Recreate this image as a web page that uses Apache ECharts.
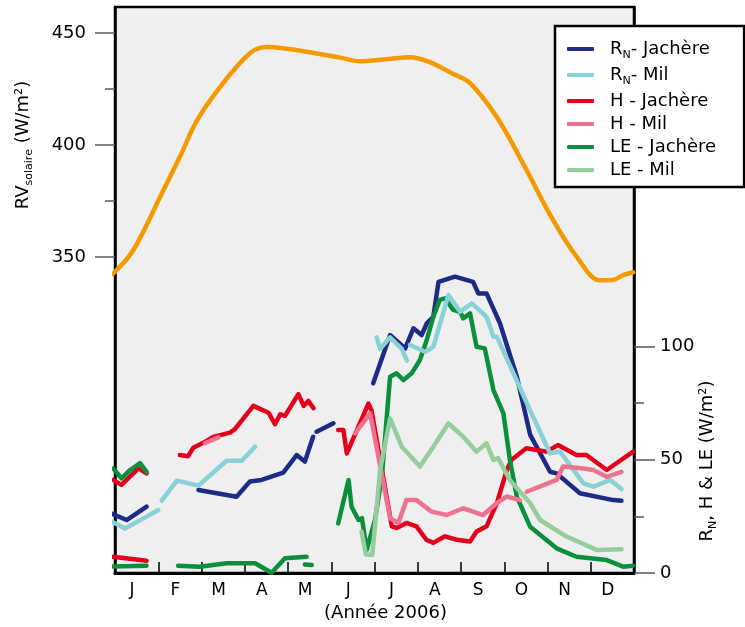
<!DOCTYPE html>
<html><head><meta charset="utf-8">
<script src="https://cdn.jsdelivr.net/npm/echarts@6/dist/echarts.min.js"></script>
<style>html,body{margin:0;padding:0;background:#fff}#c{width:745px;height:627px}</style>
</head><body><div id="c"></div>
<script>
// ---- tick labels / categories ----
const months = ['J','F','M','A','M','J','J','A','S','O','N','D'];
const rvTicks = [350, 400, 450];
const rvMinorTicks = [375, 425];
const fluxTicks = [0, 50, 100];
const fluxMinorTicks = [25, 75];

// ---- series values: [month (0 = 1 Jan, 12 = 31 Dec), W/m2] ----
const rvSolaire = [[-0.05,342.5],[0.42,353.1],[1.04,376.8],[1.5,394.8],[1.90,411.2],[2.50,427.7],[3.12,441.1],[3.51,443.8],[3.88,443.3],[4.51,441.5],[5.2,439.1],[5.66,437.5],[6.29,438.4],[6.82,439.3],[7.28,437.1],[7.8,432.0],[8.21,427.7],[8.83,412.5],[9.43,392.0],[10.13,366.5],[10.68,350.0],[11.21,339.7],[11.5,339.8],[11.75,342.0],[11.98,343.3]];

const rnJachere = [
  [[-0.27,27.8],[0.27,23.4],[0.73,29.3]],
  [[1.93,36.7],[2.81,33.7],[3.12,40.4],[3.39,41.1],[3.89,44.3],[4.20,52.1],[4.39,49.2],[4.58,60.2]],
  [[4.66,62.4],[5.05,66.1]],
  [[5.97,83.8],[6.36,105.1],[6.71,99.2],[6.90,108.1],[7.09,105.1],[7.21,110.3],[7.36,113.2],[7.48,128.6],[7.86,130.9],[8.28,128.6],[8.40,123.5],[8.59,123.5],[8.90,110.3],[9.29,86.8],[9.60,61.0],[10.06,44.7],[10.21,44.0],[10.75,35.2],[11.52,32.2],[11.71,31.9]]
];
const rnMil = [
  [[-0.15,23.4],[0.23,19.7],[0.73,24.9],[1.0,27.8]],
  [[1.08,32.0],[1.43,40.8],[1.93,38.6],[2.58,49.6],[2.93,49.6],[3.24,55.8]],
  [[6.05,104.1],[6.13,99.0],[6.36,104.1],[6.63,99.0],[6.75,93.8]],
  [[6.82,100.7],[7.17,97.7],[7.36,99.9],[7.71,122.8],[7.98,115.4],[8.25,119.1],[8.59,113.2],[8.75,104.3],[8.83,104.3],[9.29,85.0],[9.60,71.7],[10.06,52.9],[10.29,53.6],[10.83,39.6],[11.06,38.1],[11.45,41.1],[11.71,37.1]]
];
const hJachere = [
  [[-0.04,41.1],[0.15,38.9],[0.54,46.2],[0.73,44.0]],
  [[1.50,52.1],[1.69,51.6],[1.81,55.3],[2.04,57.5],[2.27,60.1],[2.66,62.0],[2.77,63.5],[3.20,73.8],[3.55,70.8],[3.70,65.7],[3.82,70.1],[3.93,69.4],[4.24,79.0],[4.36,73.8],[4.47,76.0],[4.59,72.8]],
  [[5.16,63.2],[5.28,63.2],[5.36,52.8],[5.86,74.8],[5.93,71.9],[6.40,20.6],[6.51,19.9],[6.74,22.1],[6.97,20.6],[7.20,14.7],[7.36,13.3],[7.63,16.2],[7.90,14.7],[8.21,13.9],[8.36,18.3],[8.59,20.6],[8.83,30.9],[9.06,45.5],[9.17,50.0],[9.51,55.1],[9.98,53.6],[10.24,56.5],[10.67,52.1],[10.90,52.1],[11.37,45.5],[11.98,53.6]],
  [[-0.04,7.2],[0.73,5.4]]
];
const hMil = [
  [[2.08,57.3],[2.39,59.9]],
  [[5.55,61.7],[5.90,70.5],[6.36,24.2],[6.55,22.1],[6.74,32.2],[6.97,32.2],[7.32,27.1],[7.67,25.6],[8.05,28.6],[8.51,25.6],[8.83,30.9],[9.06,33.8],[9.36,32.2]],
  [[9.52,35.9],[10.21,41.1],[10.36,47.0],[10.83,46.2],[11.06,45.5],[11.37,42.5],[11.71,44.7]]
];
const leJachere = [
  [[-0.04,46.2],[0.15,41.8],[0.35,45.5],[0.58,48.5],[0.73,44.7]],
  [[-0.12,2.8],[0.73,3.2]],
  [[1.46,3.2],[1.96,2.8],[2.58,4.3],[3.24,4.3],[3.62,0.1],[3.93,6.5],[4.43,7.2]],
  [[4.39,3.8],[4.55,3.5]],
  [[5.16,21.9],[5.40,41.1],[5.47,29.3],[5.63,23.4],[5.71,24.2],[5.82,10.2],[6.01,23.4],[6.17,42.5],[6.36,86.7],[6.51,88.2],[6.67,85.2],[6.86,88.2],[7.05,94.1],[7.21,103.0],[7.36,113.2],[7.51,120.6],[7.63,121.3],[7.82,116.2],[7.98,115.4],[8.05,112.5],[8.21,114.7],[8.36,99.9],[8.55,99.2],[8.75,80.8],[8.98,70.5],[9.13,50.0],[9.29,33.7],[9.60,20.4],[10.21,10.9],[10.67,7.2],[11.37,5.7],[11.75,2.8],[11.98,3.2]]
];
const leMil = [
  [[5.70,18.2],[5.80,8.3],[5.95,8.0],[6.13,45.5],[6.36,68.3],[6.63,55.8],[7.05,47.0],[7.36,55.8],[7.71,66.1],[8.05,60.2],[8.36,53.6],[8.59,57.3],[8.75,49.9],[8.86,50.7],[9.13,41.1],[9.60,30.8],[9.83,23.4],[10.44,16.1],[11.14,10.2],[11.71,10.5]]
];

const FONT = 'DejaVu Sans';
const C = {
  orange:'#f39a00', navy:'#1d2b86', lblue:'#88d1d6', red:'#e3001b',
  pink:'#ec7390', green:'#0a8f3c', lgreen:'#96cd9c'
};

function segSeries(name, segs, color) {
  return segs.map(seg => ({
    name, type:'line', xAxisIndex:0, yAxisIndex:2, data:seg,
    showSymbol:false, symbol:'none', clip:false, silent:true,
    lineStyle:{color, width:4.5, cap:'round', join:'round'},
    itemStyle:{color}
  }));
}

const series = [{
  name:'RV solaire', type:'line', xAxisIndex:0, yAxisIndex:0, data:rvSolaire,
  smooth:0.35, showSymbol:false, symbol:'none', clip:false, silent:true,
  lineStyle:{color:C.orange, width:4.5, cap:'round'}, itemStyle:{color:C.orange}
}].concat(
  segSeries('RN- Jachère', rnJachere, C.navy),
  segSeries('H - Jachère', hJachere, C.red),
  segSeries('LE - Jachère', leJachere, C.green),
  segSeries('RN- Mil', rnMil, C.lblue),
  segSeries('H - Mil', hMil, C.pink),
  segSeries('LE - Mil', leMil, C.lgreen)
);

const chart = echarts.init(document.getElementById('c'), null, {renderer:'canvas'});
chart.setOption({
  animation:false,
  backgroundColor:'#fff',
  grid:{left:115, top:7, width:519, height:566, show:true, backgroundColor:'#efefef', borderColor:'#000', borderWidth:2.5},
  xAxis:[
    {type:'value', min:0, max:12, interval:1, position:'bottom',
     axisLine:{show:true, onZero:false, lineStyle:{color:'#000', width:3}},
     axisTick:{show:true, inside:true, length:11, lineStyle:{color:'#000', width:1.5}},
     axisLabel:{show:false}, splitLine:{show:false}},
    {type:'category', data:months, position:'bottom',
     axisLine:{show:false}, axisTick:{show:false}, splitLine:{show:false},
     axisLabel:{color:'#000', fontSize:17, fontFamily:FONT, margin:9, padding:[0,9,0,0]},
     name:'(Année 2006)', nameLocation:'middle', nameGap:30,
     nameTextStyle:{color:'#000', fontSize:18, fontFamily:FONT, padding:[0,0,0,22]}}
  ],
  yAxis:[
    {type:'value', min:209, max:461.7, position:'left',
     axisLine:{show:true, onZero:false, lineStyle:{color:'#000', width:2.5}},
     axisTick:{show:true, customValues:rvTicks, length:20, lineStyle:{color:'#555', width:1.5}},
     axisLabel:{customValues:rvTicks, color:'#000', fontSize:18, fontFamily:FONT, margin:29},
     splitLine:{show:false}},
    {type:'value', min:209, max:461.7, position:'left',
     axisLine:{show:false},
     axisTick:{show:true, customValues:rvMinorTicks, length:10, lineStyle:{color:'#555', width:1.5}},
     axisLabel:{show:false}, splitLine:{show:false}},
    {type:'value', min:0, max:250, position:'right',
     axisLine:{show:true, onZero:false, lineStyle:{color:'#000', width:2.5}},
     axisTick:{show:true, customValues:fluxTicks, length:21, lineStyle:{color:'#555', width:1.5}},
     axisLabel:{customValues:fluxTicks, color:'#000', fontSize:18, fontFamily:FONT, margin:26},
     splitLine:{show:false}},
    {type:'value', min:0, max:250, position:'right',
     axisLine:{show:false},
     axisTick:{show:true, customValues:fluxMinorTicks, length:10, lineStyle:{color:'#555', width:1.5}},
     axisLabel:{show:false}, splitLine:{show:false}}
  ],
  legend:{
    data:['RN- Jachère','RN- Mil','H - Jachère','H - Mil','LE - Jachère','LE - Mil'],
    orient:'vertical', left:555, top:26, z:10,
    backgroundColor:'#fff', borderColor:'#000', borderWidth:2.5,
    padding:[14,28,8,12], itemGap:5, itemWidth:27, itemHeight:4,
    icon:'roundRect', lineStyle:{width:4}, selectedMode:false,
    formatter:function(name){
      if (name.indexOf('RN') === 0) return '{t|R}{s|N}{t|' + name.slice(2) + '}';
      return '{t|' + name + '}';
    },
    textStyle:{color:'#000', fontSize:18, fontFamily:FONT, padding:[0,0,0,11],
      rich:{t:{color:'#000', fontSize:18, fontFamily:FONT, lineHeight:24},
            s:{color:'#000', fontSize:11, fontFamily:FONT, lineHeight:8, verticalAlign:'bottom'}}}
  },
  graphic:[
    {type:'text', x:23, y:145, rotation:Math.PI/2, silent:true,
     style:{text:'{a|RV}{s|solaire}{a| (W/m²)}', fill:'#000',
       align:'center', verticalAlign:'middle', textAlign:'center', textVerticalAlign:'middle',
       rich:{a:{fill:'#000', fontSize:18, fontFamily:FONT, lineHeight:24},
             s:{fill:'#000', fontSize:11, fontFamily:FONT, lineHeight:8, verticalAlign:'bottom'}}}},
    {type:'text', x:707, y:461, rotation:Math.PI/2, silent:true,
     style:{text:'{a|R}{s|N}{a|, H & LE (W/m²)}', fill:'#000',
       align:'center', verticalAlign:'middle', textAlign:'center', textVerticalAlign:'middle',
       rich:{a:{fill:'#000', fontSize:18, fontFamily:FONT, lineHeight:24},
             s:{fill:'#000', fontSize:11, fontFamily:FONT, lineHeight:8, verticalAlign:'bottom'}}}}
  ],
  series:series
});
</script></body></html>
